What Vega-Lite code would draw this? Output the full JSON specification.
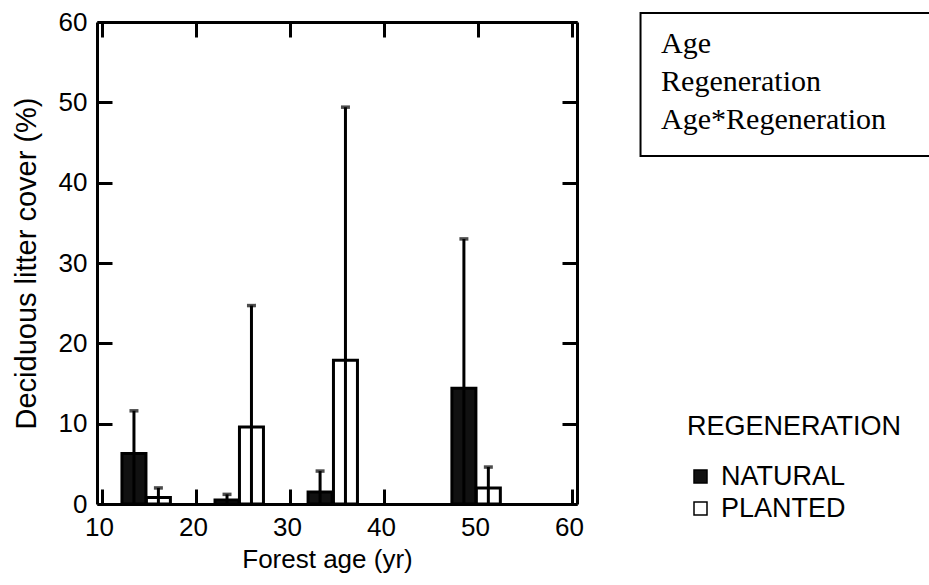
{
  "$schema": "https://vega.github.io/schema/vega-lite/v6.json",
  "width": 480,
  "height": 482,
  "autosize": {"type": "none"},
  "padding": {"left": 97, "top": 22, "right": 352, "bottom": 81},
  "background": "white",
  "config": {
    "view": {"stroke": null},
    "axis": {
      "domainColor": "black",
      "domainWidth": 3,
      "tickColor": "black",
      "tickWidth": 3,
      "tickSize": -15,
      "grid": false,
      "labelFont": "Liberation Sans",
      "labelFontSize": 26,
      "labelColor": "black",
      "titleFont": "Liberation Sans",
      "titleFontWeight": "normal",
      "titleColor": "black"
    }
  },
  "datasets": {
    "bars": [
      {"age": 13.4, "regen": "NATURAL", "cover": 6.3, "upper": 11.6},
      {"age": 16.0, "regen": "PLANTED", "cover": 0.8, "upper": 2.0},
      {"age": 23.3, "regen": "NATURAL", "cover": 0.5, "upper": 1.2},
      {"age": 25.9, "regen": "PLANTED", "cover": 9.6, "upper": 24.7},
      {"age": 33.2, "regen": "NATURAL", "cover": 1.5, "upper": 4.1},
      {"age": 35.9, "regen": "PLANTED", "cover": 17.9, "upper": 49.4},
      {"age": 48.5, "regen": "NATURAL", "cover": 14.4, "upper": 33.0},
      {"age": 51.1, "regen": "PLANTED", "cover": 2.0, "upper": 4.6}
    ],
    "effects": [
      {"terms": "Age\nRegeneration\nAge*Regeneration"}
    ]
  },
  "layer": [
    {
      "data": {"name": "bars"},
      "mark": {"type": "bar", "width": 24, "stroke": "black", "strokeWidth": 3},
      "encoding": {
        "x": {
          "field": "age", "type": "quantitative",
          "scale": {"domain": [10, 60], "nice": false, "zero": false},
          "axis": {"values": [10, 20, 30, 40, 50, 60], "title": "Forest age (yr)", "titleFontSize": 26, "labelPadding": 25, "titlePadding": 6, "labelOffset": -3, "titleX": 230}
        },
        "y": {
          "field": "cover", "type": "quantitative",
          "scale": {"domain": [0, 60], "nice": false},
          "axis": {"values": [0, 10, 20, 30, 40, 50, 60], "title": "Deciduous litter cover (%)", "titleFontSize": 29, "labelPadding": 25, "titlePadding": 17}
        },
        "fill": {
          "field": "regen", "type": "nominal",
          "scale": {"domain": ["NATURAL", "PLANTED"], "range": ["#111111", "#ffffff"]},
          "legend": {
            "title": "REGENERATION",
            "orient": "none",
            "legendX": 590,
            "legendY": 392,
            "padding": 0,
            "titleFont": "Liberation Sans",
            "titleFontSize": 27,
            "titleFontWeight": "normal",
            "titleColor": "black",
            "titleLimit": 0,
            "titlePadding": 22,
            "labelFont": "Liberation Sans",
            "labelFontSize": 27,
            "labelColor": "black",
            "labelLimit": 0,
            "labelOffset": 7,
            "symbolType": "square",
            "symbolSize": 169,
            "symbolStrokeColor": "black",
            "symbolStrokeWidth": 1.5,
            "rowPadding": 4
          }
        }
      }
    },
    {
      "data": {"name": "bars"},
      "mark": {"type": "rule", "color": "black", "strokeWidth": 3},
      "encoding": {
        "x": {
          "field": "age", "type": "quantitative",
          "scale": {"domain": [10, 60], "nice": false, "zero": false},
          "axis": {"orient": "top", "values": [10, 20, 30, 40, 50, 60], "labels": false, "title": null}
        },
        "y": {
          "field": "upper", "type": "quantitative",
          "scale": {"domain": [0, 60], "nice": false},
          "axis": {"orient": "right", "values": [0, 10, 20, 30, 40, 50, 60], "labels": false, "title": null}
        },
        "y2": {"datum": 0}
      }
    },
    {
      "data": {"name": "bars"},
      "mark": {"type": "tick", "orient": "horizontal", "color": "black", "size": 9, "thickness": 3.5},
      "encoding": {
        "x": {"field": "age", "type": "quantitative", "scale": {"domain": [10, 60], "nice": false, "zero": false}, "axis": null},
        "y": {"field": "upper", "type": "quantitative", "scale": {"domain": [0, 60], "nice": false}, "axis": null}
      }
    },
    {
      "data": {"values": [{}]},
      "mark": {"type": "rect", "fill": null, "fillOpacity": 0, "stroke": "black", "strokeWidth": 2, "clip": false},
      "encoding": {
        "x": {"datum": 67.29, "type": "quantitative", "scale": {"domain": [10, 60], "nice": false, "zero": false}, "axis": null},
        "x2": {"datum": 100},
        "y": {"datum": 61.12, "type": "quantitative", "scale": {"domain": [0, 60], "nice": false}, "axis": null},
        "y2": {"datum": 43.32}
      }
    },
    {
      "data": {"name": "effects"},
      "mark": {"type": "text", "font": "Liberation Serif", "fontSize": 30, "lineHeight": 38, "lineBreak": "\n", "align": "left", "baseline": "top", "color": "black", "clip": false},
      "encoding": {
        "text": {"field": "terms", "type": "nominal"},
        "x": {"datum": 69.48, "type": "quantitative", "scale": {"domain": [10, 60], "nice": false, "zero": false}, "axis": null},
        "y": {"datum": 59.1, "type": "quantitative", "scale": {"domain": [0, 60], "nice": false}, "axis": null}
      }
    }
  ],
  "resolve": {"axis": {"x": "independent", "y": "independent"}}
}
